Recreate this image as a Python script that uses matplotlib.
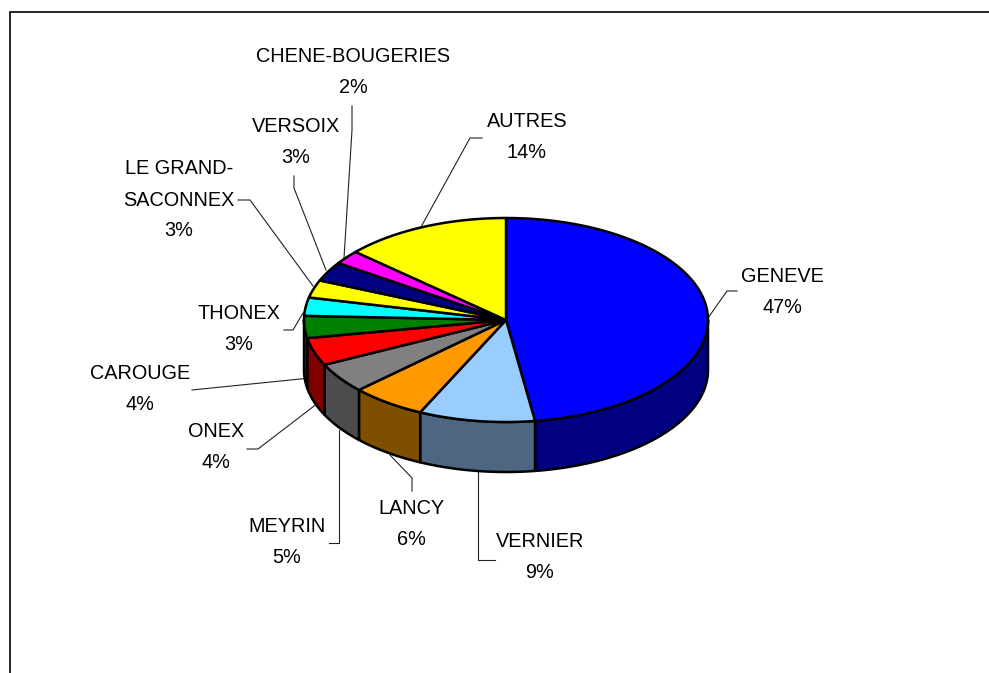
#!/usr/bin/env python3
"""Exploded-free 3D style pie of communes, drawn in pixel coordinates."""
import numpy as np
import matplotlib
matplotlib.use("Agg")
import matplotlib.pyplot as plt

plt.rcParams['font.family'] = ['Liberation Sans', 'DejaVu Sans']

communes = ["GENEVE", "VERNIER", "LANCY", "MEYRIN", "ONEX", "CAROUGE", "THONEX",
            "LE GRAND-\nSACONNEX", "VERSOIX", "CHENE-BOUGERIES", "AUTRES"]
shares = [47.8, 9.3, 6.0, 4.8, 4.4, 3.5, 2.9, 2.8, 3.1, 2.2, 13.4]
percent_labels = ["47%", "9%", "6%", "5%", "4%", "4%", "3%", "3%", "3%", "2%", "14%"]

top_colors = ["#0000FF", "#99CCFF", "#FF9900", "#808080", "#FF0000", "#008000",
              "#00FFFF", "#FFFF00", "#000080", "#FF00FF", "#FFFF00"]
side_colors = ["#000080", "#4F6680", "#7F4F00", "#4C4C4C", "#800000", "#004C00",
               "#008080", "#808000", "#000040", "#800080", "#808000"]

# label centres and leader lines, in image pixels
label_pos = [(782, 292), (540, 557), (411, 524), (287, 542), (216, 447), (140, 389),
             (239, 329), (179, 200), (296, 142), (353, 72), (527, 137)]
leaders = [
    [(708, 318), (727, 291), (737, 291)],
    [(478, 465), (478, 560), (495, 560)],
    [(390, 455), (412, 478), (412, 491)],
    [(339, 430), (339, 543), (329, 543)],
    [(318, 403), (258, 449), (247, 449)],
    [(310, 378), (192, 390)],
    [(303, 313), (293, 330), (284, 330)],
    [(313, 286), (250, 200), (238, 200)],
    [(326, 270), (294, 188), (294, 176)],
    [(344, 258), (352, 130), (352, 106)],
    [(421, 227), (470, 138), (482, 138)],
]

CX, CY, RX, RY, DEPTH = 506, 320, 202, 102, 50


def rim(a0, a1, dy=0):
    # angles clockwise from the top, in degrees
    t = np.radians(np.linspace(a0, a1, max(int(abs(a1 - a0)) * 2, 2)))
    return CX + RX * np.sin(t), CY - RY * np.cos(t) + dy


fig = plt.figure(figsize=(9.89, 6.73), dpi=100)
ax = fig.add_axes([0, 0, 1, 1])
ax.set_xlim(0, 989)
ax.set_ylim(673, 0)
ax.axis('off')

# chart frame: only left and top show in the crop
ax.plot([10, 10, 989], [673, 12, 12], color='black', lw=1.2, solid_joinstyle='miter')

edges = np.concatenate([[0], np.cumsum(shares)]) * 360 / sum(shares)

# side walls, visible for angles between 90 and 270
for a0, a1, col in zip(edges[:-1], edges[1:], side_colors):
    lo, hi = max(a0, 90), min(a1, 270)
    if lo >= hi:
        continue
    xt, yt = rim(lo, hi)
    xb, yb = rim(lo, hi, DEPTH)
    ax.fill(np.r_[xt, xb[::-1]], np.r_[yt, yb[::-1]], fc=col, ec='black', lw=1.8,
            joinstyle='round', zorder=2)

# top faces
for a0, a1, col in zip(edges[:-1], edges[1:], top_colors):
    x, y = rim(a0, a1)
    ax.fill(np.r_[CX, x], np.r_[CY, y], fc=col, ec='black', lw=1.8,
            joinstyle='round', zorder=3)

for pts in leaders:
    xs, ys = zip(*pts)
    ax.plot(xs, ys, color='#222222', lw=0.8, zorder=1)

for name, pct, (x, y) in zip(communes, percent_labels, label_pos):
    ax.text(x, y, f"{name}\n{pct}", ha='center', va='center', fontsize=14.3,
            linespacing=1.8, color='black', zorder=4)

fig.savefig("out.png", dpi=100, facecolor='white')
